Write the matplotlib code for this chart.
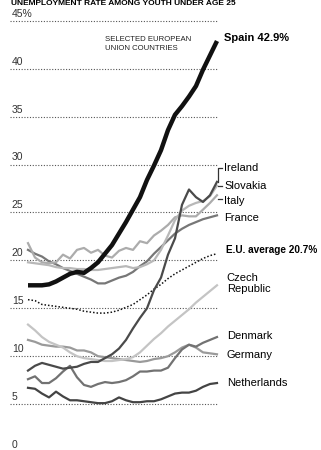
import numpy as np
import matplotlib
matplotlib.use('Agg')
import matplotlib.pyplot as plt

plt.rcParams['font.family'] = ['Liberation Sans', 'DejaVu Sans']

# quarterly-ish steps along the time axis
steps = np.arange(28)

spain = [17.4, 17.4, 17.4, 17.5, 17.8, 18.2, 18.6, 18.8, 18.7, 19.2, 19.8, 20.7, 21.6, 22.8,
         24.0, 25.3, 26.6, 28.4, 29.9, 31.5, 33.6, 35.2, 36.1, 37.1, 38.2, 39.9, 41.4, 42.9]
ireland = [8.5, 9.0, 9.3, 9.1, 8.9, 8.7, 8.8, 8.9, 9.2, 9.4, 9.4, 9.8, 10.2, 10.8,
           11.7, 12.9, 14.0, 15.0, 16.9, 18.2, 20.6, 22.3, 25.8, 27.4, 26.6, 26.1, 26.8, 28.2]
slovakia = [19.8, 19.7, 19.6, 19.5, 19.3, 19.2, 19.2, 19.1, 19.1, 19.0, 19.0, 19.1, 19.2, 19.3,
            19.4, 19.2, 19.3, 19.6, 20.0, 21.1, 22.6, 24.2, 25.2, 25.7, 26.0, 26.2, 26.7, 27.8]
italy = [21.8, 20.3, 19.8, 19.7, 19.8, 20.6, 20.2, 21.1, 21.3, 20.8, 21.1, 20.5, 20.3, 21.0,
         21.3, 21.1, 22.0, 21.8, 22.6, 23.1, 23.7, 24.5, 24.7, 24.6, 24.6, 25.3, 26.0, 26.8]
france = [21.1, 20.7, 20.4, 19.9, 19.6, 19.2, 18.9, 18.6, 18.3, 18.0, 17.6, 17.6, 17.9, 18.2,
          18.4, 18.8, 19.4, 19.9, 20.7, 21.4, 22.1, 22.8, 23.3, 23.7, 24.0, 24.3, 24.5, 24.7]
eu_avg = [15.9, 15.8, 15.4, 15.3, 15.2, 15.1, 15.0, 14.9, 14.7, 14.6, 14.5, 14.5, 14.6, 14.8,
          15.1, 15.4, 15.9, 16.4, 17.0, 17.5, 18.1, 18.6, 19.0, 19.4, 19.8, 20.2, 20.5, 20.7]
czech = [13.3, 12.7, 12.0, 11.5, 11.2, 10.9, 10.4, 10.0, 9.8, 9.7, 9.6, 9.5, 9.5, 9.6,
         9.7, 9.9, 10.4, 11.1, 11.8, 12.4, 13.1, 13.7, 14.3, 14.9, 15.6, 16.2, 16.8, 17.4]
denmark = [7.6, 7.9, 7.2, 7.2, 7.7, 8.4, 9.0, 7.8, 7.0, 6.8, 7.1, 7.3, 7.2, 7.3,
           7.5, 7.9, 8.4, 8.4, 8.5, 8.5, 8.8, 9.8, 10.7, 11.2, 11.0, 11.4, 11.7, 12.0]
germany = [11.7, 11.5, 11.2, 11.1, 11.0, 11.0, 10.9, 10.6, 10.6, 10.4, 10.0, 9.9, 9.8, 9.7,
           9.6, 9.5, 9.4, 9.5, 9.7, 9.8, 10.0, 10.4, 10.9, 11.2, 10.9, 10.4, 10.3, 10.2]
netherlands = [6.7, 6.6, 6.1, 5.7, 6.3, 5.8, 5.4, 5.4, 5.3, 5.2, 5.1, 5.1, 5.3, 5.7,
               5.4, 5.2, 5.2, 5.3, 5.3, 5.5, 5.8, 6.1, 6.2, 6.2, 6.4, 6.8, 7.1, 7.2]

y_ticks = [0, 5, 10, 15, 20, 25, 30, 35, 40, 45]
y_tick_labels = ['0', '5', '10', '15', '20', '25', '30', '35', '40', '45%']

fig = plt.figure(figsize=(3.21, 4.5), dpi=100)
ax = fig.add_axes([0, 0, 1, 1])
ax.set_xlim(-4, 41.86)
ax.set_ylim(0.21, 47.18)
ax.axis('off')

# gridlines with labels sitting on top
for t, lab in zip(y_ticks, y_tick_labels):
    ax.hlines(t, -2.6, 27, colors='#555555', linestyles=(0, (1, 1.5)), linewidth=0.8, zorder=1)
    ax.text(-2.3, t + 0.75, lab, fontsize=7.5, color='#333333', va='center', ha='left')

ax.plot(steps, netherlands, color='#444444', lw=1.6, zorder=3)
ax.plot(steps, germany, color='#9a9a9a', lw=1.6, zorder=3)
ax.plot(steps, denmark, color='#727272', lw=1.6, zorder=3)
ax.plot(steps, czech, color='#c4c4c4', lw=1.6, zorder=3)
ax.plot(steps, eu_avg, color='#111111', lw=1.1, linestyle=(0, (1, 1.3)), zorder=3)
ax.plot(steps, france, color='#777777', lw=1.6, zorder=3)
ax.plot(steps, italy, color='#acacac', lw=1.6, zorder=3)
ax.plot(steps, slovakia, color='#b8b8b8', lw=1.6, zorder=3)
ax.plot(steps, ireland, color='#4a4a4a', lw=1.6, zorder=4)
ax.plot(steps, spain, color='#111111', lw=3.2, zorder=5, solid_capstyle='butt')

# leader lines on the right
ax.plot([27.15, 27.15, 27.7], [ireland[-1], 29.6, 29.6], color='#333333', lw=0.9)
ax.plot([27.15, 27.7], [27.8, 27.8], color='#333333', lw=0.9)
ax.plot([27.15, 27.7], [26.4, 26.4], color='#333333', lw=0.9)

lab_x = 28.0
ax.text(lab_x, spain[-1] + 0.3, 'Spain 42.9%', fontsize=8, fontweight='bold', va='center')
ax.text(lab_x, 29.6, 'Ireland', fontsize=8, va='center')
ax.text(lab_x, 27.8, 'Slovakia', fontsize=8, va='center')
ax.text(lab_x, 26.2, 'Italy', fontsize=8, va='center')
ax.text(lab_x, 24.45, 'France', fontsize=8, va='center')
ax.text(lab_x + 0.3, 21.1, 'E.U. average 20.7%', fontsize=7.2, fontweight='bold', va='center')
ax.text(lab_x + 0.4, 17.55, 'Czech\nRepublic', fontsize=8, va='center', linespacing=1.1)
ax.text(lab_x + 0.4, 12.1, 'Denmark', fontsize=8, va='center')
ax.text(lab_x + 0.4, 10.1, 'Germany', fontsize=8, va='center')
ax.text(lab_x + 0.4, 7.2, 'Netherlands', fontsize=8, va='center')

ax.text(11.0, 42.6, 'SELECTED EUROPEAN\nUNION COUNTRIES', fontsize=5.6, color='#222222',
        va='center', ha='left', linespacing=1.3)

fig.text(0.035, 0.999, 'UNEMPLOYMENT RATE AMONG YOUTH UNDER AGE 25', fontsize=6.0,
         fontweight='bold', va='top', ha='left')

fig.savefig('out.png', dpi=100)
